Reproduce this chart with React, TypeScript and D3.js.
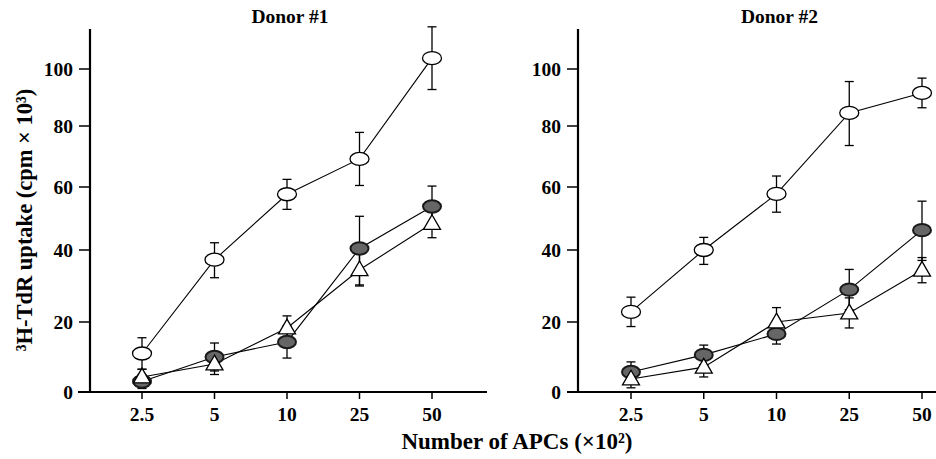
import React from "react";
import * as d3 from "d3";

const categories = ["2.5", "5", "10", "25", "50"];
const yTicks = [0, 20, 40, 60, 80, 100];

const donor1Open = [11, 37.3, 57.7, 69.2, 103.8];
const donor1OpenErr = [4.5, 5, 4.8, 8.7, 11];
const donor1Filled = [3.0, 10, 14.3, 40.5, 53.8];
const donor1FilledErr = [2, 4, 4.6, 10.2, 6.5];
const donor1Tri = [4.3, 8, 18.3, 34.5, 48.4];
const donor1TriErr = [2.2, 3, 3.4, 4.5, 4.5];

const donor2Open = [22.8, 40, 57.8, 84.6, 91.6];
const donor2OpenErr = [4.1, 4, 5.8, 11, 5.2];
const donor2Filled = [5.7, 10.6, 16.6, 29, 46.3];
const donor2FilledErr = [2.9, 2.8, 2.9, 5.6, 9.2];
const donor2Tri = [3.7, 7.1, 20, 22.5, 34.4];
const donor2TriErr = [2.5, 2.8, 4, 4.2, 3.5];

const titles = ["Donor #1", "Donor #2"];

const FONT = "'Liberation Serif', 'Times New Roman', serif";

type Series = { values: number[]; err: number[]; kind: "open" | "filled" | "tri" };

const panels: { title: string; series: Series[]; axisX: number; xRange: [number, number]; xAxisExtent: [number, number] }[] = [
  {
    title: titles[0],
    series: [
      { values: donor1Open, err: donor1OpenErr, kind: "open" },
      { values: donor1Filled, err: donor1FilledErr, kind: "filled" },
      { values: donor1Tri, err: donor1TriErr, kind: "tri" },
    ],
    axisX: 90,
    xRange: [142, 432],
    xAxisExtent: [78, 487],
  },
  {
    title: titles[1],
    series: [
      { values: donor2Open, err: donor2OpenErr, kind: "open" },
      { values: donor2Filled, err: donor2FilledErr, kind: "filled" },
      { values: donor2Tri, err: donor2TriErr, kind: "tri" },
    ],
    axisX: 578,
    xRange: [631, 922],
    xAxisExtent: [567, 936],
  },
];

const y = d3.scaleLinear().domain(yTicks).range([392, 322, 250, 187, 126, 69]);
const yTop = 29;

function Marker({ kind, cx, cy }: { kind: string; cx: number; cy: number }) {
  if (kind === "open") {
    return <ellipse cx={cx} cy={cy} rx={9.5} ry={6.5} fill="#fff" stroke="#000" strokeWidth={1.3} />;
  }
  if (kind === "filled") {
    return <ellipse cx={cx} cy={cy} rx={9} ry={6.2} fill="#666" stroke="#1a1a1a" strokeWidth={2} />;
  }
  const sym = d3.symbol().type(d3.symbolTriangle).size(125)();
  return <path d={sym || ""} transform={`translate(${cx},${cy + 1})`} fill="#fff" stroke="#000" strokeWidth={1.3} />;
}

function Panel({ p }: { p: (typeof panels)[number] }) {
  const x = d3.scalePoint<string>().domain(categories).range(p.xRange);
  const line = d3
    .line<number>()
    .x((_, i) => x(categories[i]) as number)
    .y((d) => y(d));
  const titleX = (p.xRange[0] + p.xRange[1]) / 2 + 3;
  const order: Series["kind"][] = ["open", "filled", "tri"];
  return (
    <g>
      <text x={titleX} y={23} textAnchor="middle" fontFamily={FONT} fontWeight="bold" fontSize={19.5}>
        {p.title}
      </text>
      <line x1={p.axisX} x2={p.axisX} y1={yTop} y2={y(0)} stroke="#000" strokeWidth={2.2} />
      <line x1={p.xAxisExtent[0]} x2={p.xAxisExtent[1]} y1={y(0)} y2={y(0)} stroke="#000" strokeWidth={1.8} />
      {yTicks.map((t) => (
        <g key={t}>
          {t > 0 && <line x1={p.axisX - 11} x2={p.axisX} y1={y(t)} y2={y(t)} stroke="#000" strokeWidth={1.5} />}
          <text
            x={p.axisX - 17}
            y={y(t) + 6.5}
            textAnchor="end"
            fontFamily={FONT}
            fontWeight="bold"
            fontSize={19.5}
          >
            {t}
          </text>
        </g>
      ))}
      {categories.map((c) => (
        <g key={c}>
          <line x1={x(c)} x2={x(c)} y1={y(0)} y2={y(0) + 7} stroke="#000" strokeWidth={1.5} />
          <text x={x(c)} y={421} textAnchor="middle" fontFamily={FONT} fontWeight="bold" fontSize={19.5}>
            {c}
          </text>
        </g>
      ))}
      {p.series.map((s, si) =>
        s.values.map((v, i) => {
          const cx = x(categories[i]) as number;
          const hi = y(v + s.err[i]);
          const lo = y(Math.max(0, v - s.err[i]));
          return (
            <g key={`e${si}-${i}`} stroke="#000" strokeWidth={1.3}>
              <line x1={cx} x2={cx} y1={hi} y2={lo} />
              <line x1={cx - 4.5} x2={cx + 4.5} y1={hi} y2={hi} />
              <line x1={cx - 4.5} x2={cx + 4.5} y1={lo} y2={lo} />
            </g>
          );
        })
      )}
      {p.series.map((s, si) => (
        <path key={`l${si}`} d={line(s.values) || ""} fill="none" stroke="#000" strokeWidth={1.1} />
      ))}
      {order.map((k) =>
        p.series
          .filter((s) => s.kind === k)
          .map((s, si) =>
            s.values.map((v, i) => (
              <Marker key={`m${k}${si}-${i}`} kind={k} cx={x(categories[i]) as number} cy={y(v)} />
            ))
          )
      )}
    </g>
  );
}

export default function App() {
  return (
    <svg
      width={936}
      height={459}
      viewBox="0 0 936 459"
      style={{ position: "absolute", left: 0, top: 0, background: "#fff" }}
    >
      <rect width={936} height={459} fill="#fff" />
      {panels.map((p) => (
        <Panel key={p.title} p={p} />
      ))}
      <text
        transform="translate(32,220) rotate(-90)"
        textAnchor="middle"
        fontFamily={FONT}
        fontWeight="bold"
        fontSize={22.5}
      >
        ³H-TdR uptake (cpm × 10³)
      </text>
      <text x={517} y={449} textAnchor="middle" fontFamily={FONT} fontWeight="bold" fontSize={23}>
        Number of APCs (×10²)
      </text>
    </svg>
  );
}
